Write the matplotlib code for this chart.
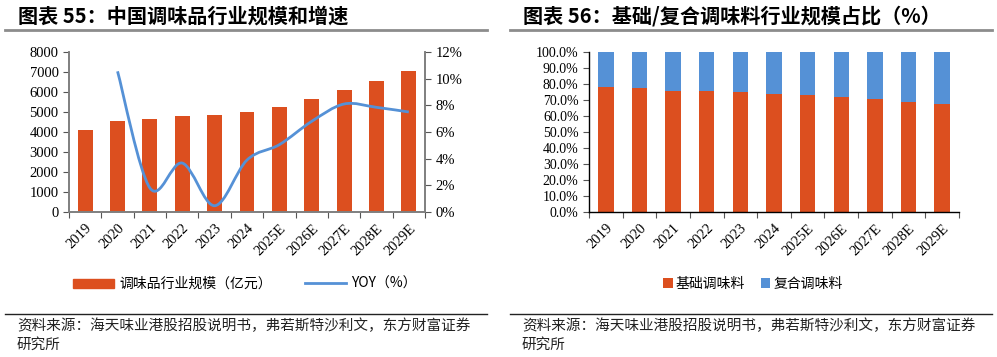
import numpy as np
import matplotlib
matplotlib.use('Agg')
import matplotlib.pyplot as plt
from matplotlib.path import Path
from matplotlib.patches import PathPatch, Patch
from matplotlib.lines import Line2D
from matplotlib.ticker import FixedLocator, NullFormatter, FixedFormatter

plt.rcParams['font.family'] = ['Noto Sans CJK SC', 'DejaVu Sans']

years = ['2019', '2020', '2021', '2022', '2023', '2024', '2025E', '2026E', '2027E', '2028E', '2029E']
scale = [4117, 4550, 4650, 4817, 4850, 5017, 5267, 5633, 6100, 6567, 7050]
yoy = [np.nan, 10.55, 1.8, 3.67, 0.47, 3.9, 5.05, 6.8, 8.1, 7.85, 7.5]
basic_share = [78.3, 77.3, 75.8, 75.4, 74.8, 74.0, 72.9, 71.9, 70.4, 69.0, 67.3]
compound_share = [100 - v for v in basic_share]

orange = '#DC4F1F'
blue = '#5591D6'
serif = ['Liberation Serif', 'DejaVu Serif']
W, H = 997, 357

fig = plt.figure(figsize=(W / 100, H / 100), dpi=100)


def fx(px):
    return px / W


def fy(py):
    return 1 - py / H


def set_cat_axis(ax, n):
    ax.set_xlim(-0.5, n - 0.5)
    ax.xaxis.set_major_locator(FixedLocator(np.arange(-0.5, n, 1.0)))
    ax.xaxis.set_major_formatter(NullFormatter())
    ax.xaxis.set_minor_locator(FixedLocator(np.arange(n)))
    ax.xaxis.set_minor_formatter(FixedFormatter(years))
    ax.tick_params(axis='x', which='major', length=4, direction='out', color='#555555')
    ax.tick_params(axis='x', which='minor', length=0, pad=7)
    for lab in ax.xaxis.get_minorticklabels():
        lab.set_rotation(45)
        lab.set_ha('right')
        lab.set_rotation_mode('anchor')
        lab.set_family(serif)
        lab.set_fontsize(10.5)


def smooth_path(xs, ys):
    # Excel-style smoothed line through the points (Catmull-Rom as Bezier)
    pts = np.column_stack([xs, ys])
    verts = [pts[0]]
    codes = [Path.MOVETO]
    n = len(pts)
    for i in range(n - 1):
        p0 = pts[max(i - 1, 0)]
        p1 = pts[i]
        p2 = pts[i + 1]
        p3 = pts[min(i + 2, n - 1)]
        verts += [p1 + (p2 - p0) / 6, p2 - (p3 - p1) / 6, p2]
        codes += [Path.CURVE4] * 3
    return Path(verts, codes)


x = np.arange(len(years))

# ---- left chart
ax1 = fig.add_axes([fx(69), fy(212), fx(425 - 69), (212 - 52) / H])
ax1.bar(x, scale, width=0.46, color=orange, zorder=2)
ax1.set_ylim(0, 8000)
ax1.set_yticks(range(0, 8001, 1000))
ax1.set_yticklabels([str(v) for v in range(0, 8001, 1000)], family=serif, fontsize=10.5)
ax1.tick_params(axis='y', length=4, color='#555555')
set_cat_axis(ax1, len(years))
ax1.spines['top'].set_visible(False)
for s in ['left', 'bottom', 'right']:
    ax1.spines[s].set_color('#7f7f7f')
    ax1.spines[s].set_linewidth(1.2)

ax2 = ax1.twinx()
ax2.set_ylim(0, 12)
ax2.set_yticks(range(0, 13, 2))
ax2.set_yticklabels(['%d%%' % v for v in range(0, 13, 2)], family=serif, fontsize=10.5)
ax2.tick_params(axis='y', length=4, color='#555555')
ax2.spines['top'].set_visible(False)
for s in ['left', 'bottom', 'right']:
    ax2.spines[s].set_color('#7f7f7f')
    ax2.spines[s].set_linewidth(1.2)
yx = [xi for xi, v in zip(x, yoy) if not np.isnan(v)]
yv = [v for v in yoy if not np.isnan(v)]
ax2.add_patch(PathPatch(smooth_path(yx, yv), facecolor='none', edgecolor=blue, lw=2, zorder=3))

h1 = Patch(color=orange)
h2 = Line2D([], [], color=blue, lw=2)
fig.legend([h1, h2], ['调味品行业规模（亿元）', 'YOY（%）'], loc='center',
           bbox_to_anchor=(fx(245), fy(284)), ncol=2, frameon=False, fontsize=10,
           handlelength=2.9, handleheight=0.6, columnspacing=2.4, handletextpad=0.4)

# ---- right chart
ax3 = fig.add_axes([fx(589), fy(212), fx(959 - 589), (212 - 52) / H])
ax3.bar(x, basic_share, width=0.46, color=orange, zorder=2, label='基础调味料')
ax3.bar(x, compound_share, width=0.46, bottom=basic_share, color=blue, zorder=2, label='复合调味料')
ax3.set_ylim(0, 100)
ax3.set_yticks(range(0, 101, 10))
ax3.set_yticklabels(['%.1f%%' % v for v in range(0, 101, 10)], family=serif, fontsize=10)
ax3.tick_params(axis='y', length=4, color='#555555')
set_cat_axis(ax3, len(years))
ax3.spines['top'].set_visible(False)
ax3.spines['right'].set_visible(False)
for s in ['left', 'bottom']:
    ax3.spines[s].set_color('#000000')
    ax3.spines[s].set_linewidth(1.0)
fig.legend(*ax3.get_legend_handles_labels(), loc='center',
           bbox_to_anchor=(fx(753), fy(284)), ncol=2, frameon=False, fontsize=10,
           handlelength=0.7, handleheight=0.7, columnspacing=1.1, handletextpad=0.2)

# ---- titles, rules, sources
titles = ['图表 55：中国调味品行业规模和增速', '图表 56：基础/复合调味料行业规模占比（%）']
for x0, x1, t in [(5, 487, titles[0]), (510, 992, titles[1])]:
    fig.text(fx(x0 + 13), fy(16), t, fontsize=14.5, fontweight='bold', va='center', ha='left')
    fig.add_artist(Line2D([fx(x0), fx(x1)], [fy(30), fy(30)], color='#8c8c8c', lw=2))
    fig.add_artist(Line2D([fx(x0), fx(x1)], [fy(314), fy(314)], color='#222222', lw=1))
    fig.text(fx(x0 + 12), fy(326), '资料来源：海天味业港股招股说明书，弗若斯特沙利文，东方财富证券',
             fontsize=10.5, va='center', ha='left', color='#222222')
    fig.text(fx(x0 + 12), fy(345), '研究所', fontsize=10.5, va='center', ha='left', color='#222222')

fig.savefig('out.png', dpi=100)
